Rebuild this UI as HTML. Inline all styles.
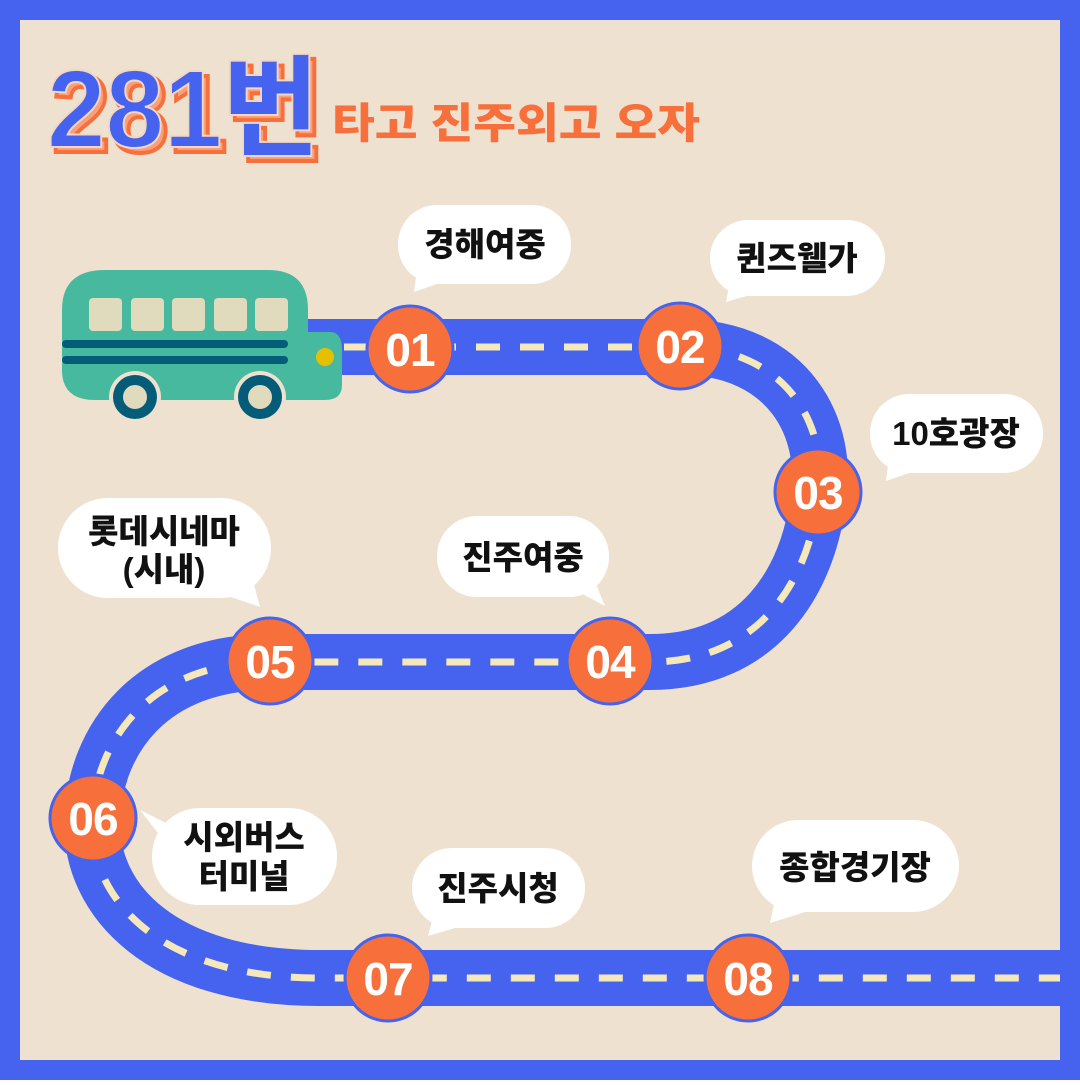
<!DOCTYPE html>
<html><head><meta charset="utf-8"><style>
html,body{margin:0;padding:0}
body{width:1080px;height:1080px;overflow:hidden;font-family:"Liberation Sans","Noto Sans CJK KR",sans-serif}
</style></head><body>
<svg width="1080" height="1080" viewBox="0 0 1080 1080" xmlns="http://www.w3.org/2000/svg" font-family="Liberation Sans, Noto Sans CJK KR, sans-serif">
<rect width="1080" height="1080" fill="#4563ee"/>
<rect x="20" y="20" width="1040" height="1040" fill="#efe1cf"/>
<!-- title -->
<text x="52" y="152" font-size="110" font-weight="900" fill="#f7a07a" stroke="#f76f3b" stroke-width="4" textLength="272" lengthAdjust="spacingAndGlyphs">281번</text>
<text x="47" y="147" font-size="110" font-weight="900" fill="#4563ee" stroke="#f2d7c5" stroke-width="2" textLength="272" lengthAdjust="spacingAndGlyphs">281번</text>
<text x="332" y="138" font-size="42" font-weight="900" fill="#f76f3b" textLength="368" lengthAdjust="spacingAndGlyphs">타고 진주외고 오자</text>
<!-- road -->
<path d="M300 347 H680 C790 347 830 430 818 500 C808 580 760 662 650 662 H270 C150 662 95 740 92 820 C90 900 160 978 320 978 H1060" fill="none" stroke="#4563ee" stroke-width="56"/>
<path d="M300 347 H680 C790 347 830 430 818 500 C808 580 760 662 650 662 H270 C150 662 95 740 92 820 C90 900 160 978 320 978 H1060" fill="none" stroke="#f5e9bb" stroke-width="7" stroke-dasharray="24 20"/>
<!-- bus -->
<path d="M62 310 Q62 270 105 270 H268 Q308 270 308 310 V332 H330 Q342 332 342 350 V385 Q342 400 325 400 H95 Q62 400 62 370 Z" fill="#47b99f"/>
<g fill="#e1dbbd"><rect x="89" y="298" width="33" height="33" rx="4"/><rect x="131" y="298" width="33" height="33" rx="4"/><rect x="172" y="298" width="33" height="33" rx="4"/><rect x="214" y="298" width="33" height="33" rx="4"/><rect x="255" y="298" width="33" height="33" rx="4"/></g>
<rect x="62" y="340" width="226" height="8" rx="4" fill="#045c78"/>
<rect x="62" y="356" width="226" height="8" rx="4" fill="#045c78"/>
<circle cx="325" cy="357" r="9" fill="#e5c000"/>
<g><circle cx="135" cy="397" r="26" fill="#efe1cf"/><circle cx="135" cy="397" r="22" fill="#045c78"/><circle cx="135" cy="397" r="12" fill="#e1dbbd"/>
<circle cx="260" cy="397" r="26" fill="#efe1cf"/><circle cx="260" cy="397" r="22" fill="#045c78"/><circle cx="260" cy="397" r="12" fill="#e1dbbd"/></g>
<!-- bubbles -->
<g fill="#fff">
<rect x="398" y="205" width="173" height="79" rx="39"/><polygon points="418,262 448,280 414,292"/>
<rect x="710" y="220" width="175" height="76" rx="38"/><polygon points="732,272 760,292 726,302"/>
<rect x="870" y="394" width="173" height="79" rx="39"/><polygon points="890,450 918,470 886,481"/>
<rect x="437" y="516" width="172" height="81" rx="40"/><polygon points="575,590 590,570 605,606"/>
<rect x="58" y="498" width="213" height="100" rx="50"/><polygon points="225,595 250,570 260,607"/>
<rect x="152" y="808" width="185" height="97" rx="48"/><polygon points="170,825 175,855 140,810"/>
<rect x="412" y="848" width="173" height="80" rx="40"/><polygon points="435,910 465,925 428,936"/>
<rect x="752" y="820" width="207" height="92" rx="46"/><polygon points="776,895 805,912 770,923"/>
</g>
<g font-size="33" font-weight="900" fill="#111" text-anchor="middle">
<text x="485" y="256">경해여중</text>
<text x="797" y="270">퀸즈웰가</text>
<text x="956" y="445">10호광장</text>
<text x="523" y="569">진주여중</text>
<text x="164" y="543">롯데시네마</text>
<text x="164" y="581">(시내)</text>
<text x="244" y="849">시외버스</text>
<text x="244" y="888">터미널</text>
<text x="498" y="900">진주시청</text>
<text x="855" y="879">종합경기장</text>
</g>
<!-- nodes -->
<g fill="#f76f3b" stroke="#4563ee" stroke-width="3">
<circle cx="410" cy="349" r="43"/><circle cx="680" cy="346" r="43"/><circle cx="818" cy="492" r="43"/>
<circle cx="610" cy="661" r="43"/><circle cx="270" cy="661" r="43"/><circle cx="93" cy="818" r="43"/>
<circle cx="388" cy="978" r="43"/><circle cx="748" cy="978" r="43"/>
</g>
<g font-size="46" font-weight="900" fill="#fff" text-anchor="middle" letter-spacing="-1">
<text x="410" y="366">01</text><text x="680" y="363">02</text><text x="818" y="509">03</text>
<text x="610" y="678">04</text><text x="270" y="678">05</text><text x="93" y="835">06</text>
<text x="388" y="995">07</text><text x="748" y="995">08</text>
</g>
</svg>
</body></html>
